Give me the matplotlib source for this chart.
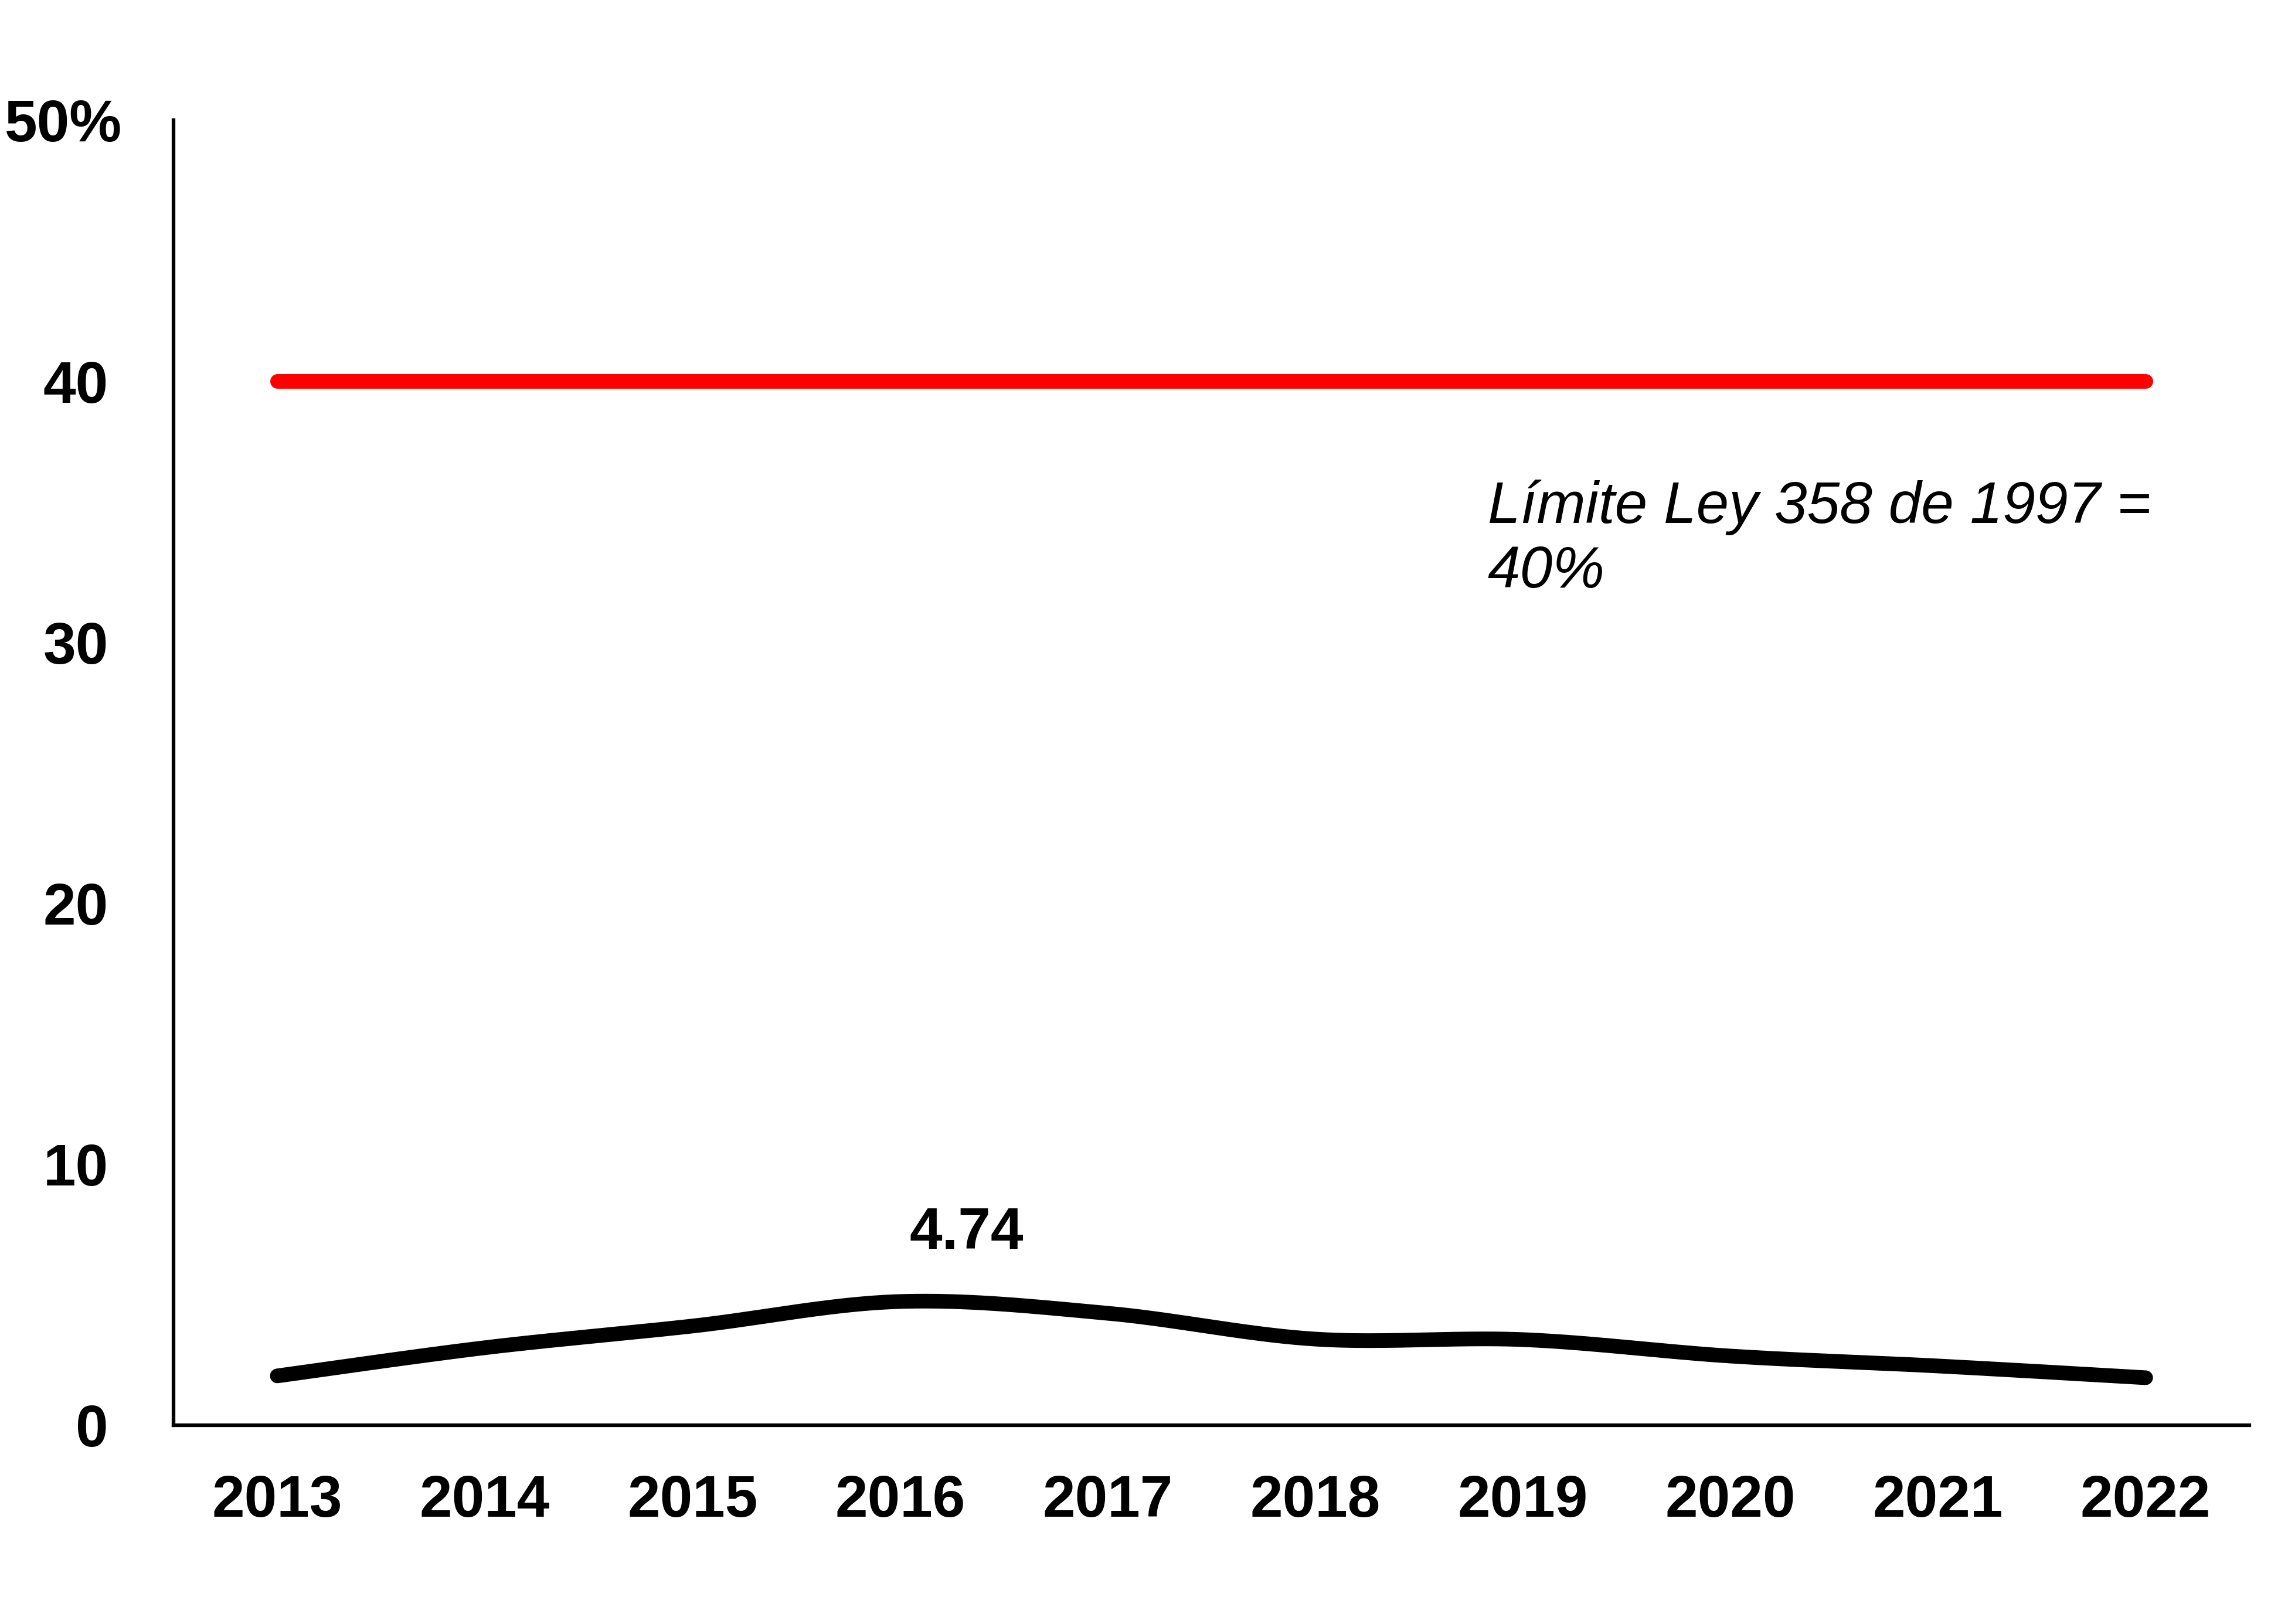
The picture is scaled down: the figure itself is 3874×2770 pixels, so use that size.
import numpy as np
import matplotlib
matplotlib.use("Agg")
import matplotlib.pyplot as plt
from matplotlib.transforms import ScaledTranslation

plt.rcParams["font.family"] = ["Liberation Sans", "DejaVu Sans"]

# === DATA ===
years = ["2013", "2014", "2015", "2016", "2017", "2018", "2019", "2020", "2021", "2022"]
ratio = [1.89, 2.97, 3.80, 4.74, 4.29, 3.30, 3.28, 2.65, 2.27, 1.82]
limite = [40, 40, 40, 40, 40, 40, 40, 40, 40, 40]
yticks = [0, 10, 20, 30, 40, 50]
ytick_labels = ["0", "10", "20", "30", "40", "50%"]
peak_label = "4.74"
limit_text = "Límite Ley 358 de 1997 =\n40%"


def smooth(xs, ys, n=40):
    # curva suavizada tipo Excel (Catmull-Rom -> Bezier)
    xs = np.asarray(xs, float)
    ys = np.asarray(ys, float)
    px, py = [], []
    for i in range(len(xs) - 1):
        x0, y0 = (xs[i - 1], ys[i - 1]) if i > 0 else (xs[i], ys[i])
        x1, y1 = xs[i], ys[i]
        x2, y2 = xs[i + 1], ys[i + 1]
        x3, y3 = (xs[i + 2], ys[i + 2]) if i + 2 < len(xs) else (x2, y2)
        c1x, c1y = x1 + (x2 - x0) / 6, y1 + (y2 - y0) / 6
        c2x, c2y = x2 - (x3 - x1) / 6, y2 - (y3 - y1) / 6
        t = np.linspace(0, 1, n)
        px.append((1 - t) ** 3 * x1 + 3 * (1 - t) ** 2 * t * c1x + 3 * (1 - t) * t ** 2 * c2x + t ** 3 * x2)
        py.append((1 - t) ** 3 * y1 + 3 * (1 - t) ** 2 * t * c1y + 3 * (1 - t) * t ** 2 * c2y + t ** 3 * y2)
    return np.concatenate(px), np.concatenate(py)


x = np.arange(len(years))

fig = plt.figure(figsize=(38.74, 27.70), dpi=100)
ax = fig.add_axes([0.0764, 0.1224, 0.9141, 0.8036])

ax.plot(x, limite, color="#FF0000", lw=18, solid_capstyle="round")
sx, sy = smooth(x, ratio)
ax.plot(sx, sy, color="black", lw=18, solid_capstyle="round")

ax.text(3.32, 6.76, peak_label, ha="center", va="baseline", fontsize=72, fontweight="bold")
ax.text(5.83, 32.1, limit_text, ha="left", va="baseline", fontsize=72, style="italic",
        linespacing=1.22)

ax.set_xlim(-0.5, len(years) - 0.5)
ax.set_ylim(0, 50)
ax.set_xticks(x)
ax.set_xticklabels(years, fontsize=72, fontweight="bold")
ax.set_yticks(yticks)
ax.set_yticklabels(ytick_labels, fontsize=72, fontweight="bold")
ax.tick_params(axis="x", length=0, pad=60)
ax.tick_params(axis="y", length=0, pad=80)

# el "50%" sobresale un poco a la derecha
lab = ax.get_yticklabels()[-1]
lab.set_transform(lab.get_transform() + ScaledTranslation(0.23, 0, fig.dpi_scale_trans))

for side in ["top", "right"]:
    ax.spines[side].set_visible(False)
for side in ["left", "bottom"]:
    ax.spines[side].set_linewidth(4.5)

fig.savefig("out.png", dpi=100, facecolor="white")
